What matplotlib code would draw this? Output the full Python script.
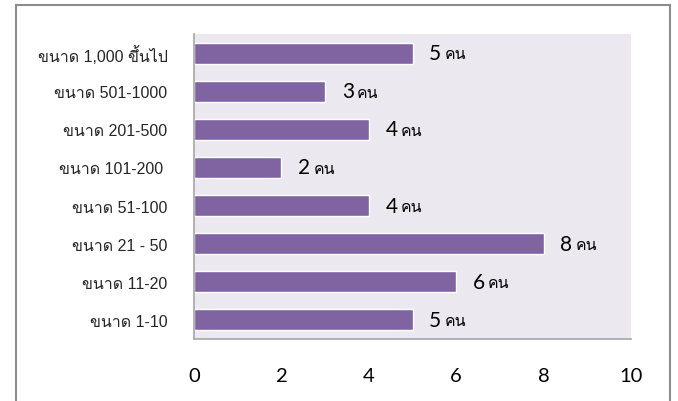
import matplotlib
matplotlib.use("Agg")
import matplotlib.pyplot as plt
from matplotlib.patches import Rectangle

categories = ["ขนาด 1-10", "ขนาด 11-20", "ขนาด 21 - 50", "ขนาด 51-100",
              "ขนาด 101-200 ", "ขนาด 201-500", "ขนาด 501-1000", "ขนาด 1,000 ขึ้นไป"]
counts = [5, 6, 8, 4, 2, 4, 3, 5]
unit = "คน"
xticks = [0, 2, 4, 6, 8, 10]

# Liberation Sans for latin/digits, Loma fills in the Thai glyphs
label_family = ["Liberation Sans", "Loma", "DejaVu Sans"]
num_family = ["Lato", "DejaVu Sans"]
unit_family = ["Loma", "DejaVu Sans"]

fig = plt.figure(figsize=(6.78, 4.02), dpi=100)
fig.patches.append(Rectangle((16 / 678, -0.05), (670 - 16) / 678, 1.05 - 6 / 402,
                             transform=fig.transFigure, fill=False,
                             edgecolor="#8c8c8c", linewidth=1.5))

ax = fig.add_axes([194 / 678, 1 - 340 / 402, (631 - 194) / 678, (340 - 35) / 402])
ax.set_facecolor("#EBE9EF")
ypos = range(len(categories))
ax.barh(ypos, counts, height=0.55, color="#8064A2", edgecolor="white", linewidth=1)
ax.set_xlim(0, 10)
ax.set_ylim(-0.5, len(categories) - 0.5)
ax.set_xticks(xticks)
ax.set_xticklabels([str(t) for t in xticks], family=num_family, fontsize=14.5)
ax.set_yticks(list(ypos))
ax.set_yticklabels(categories, family=label_family, fontsize=11.5, color="#262626")
ax.tick_params(axis="both", length=0)
ax.tick_params(axis="x", pad=20)
ax.tick_params(axis="y", pad=19)
for side in ["top", "right"]:
    ax.spines[side].set_visible(False)
for side in ["left", "bottom"]:
    ax.spines[side].set_color("#a6a6a6")
    ax.spines[side].set_linewidth(1.2)

for y, v in zip(ypos, counts):
    ax.annotate(str(v), (v, y), xytext=(12, 0), textcoords="offset points",
                ha="left", va="center", fontsize=15, family=num_family)
    ax.annotate(unit, (v, y), xytext=(23, -1), textcoords="offset points",
                ha="left", va="center", fontsize=11.5, family=unit_family)

fig.savefig("out.png", dpi=100)
